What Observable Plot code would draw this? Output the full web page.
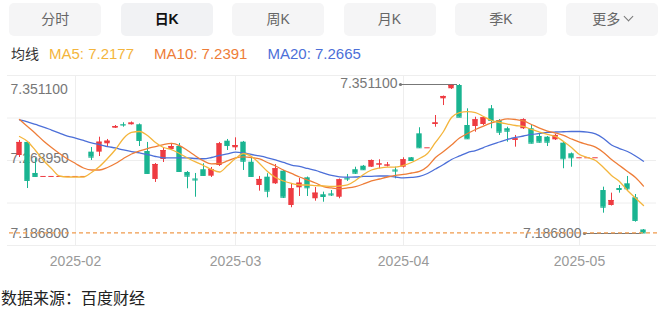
<!DOCTYPE html>
<html><head><meta charset="utf-8">
<script src="https://cdn.jsdelivr.net/npm/d3@7"></script>
<script src="https://cdn.jsdelivr.net/npm/@observablehq/plot@0.6"></script>
<style>
body{margin:0;background:#fff;font-family:"Liberation Sans","Noto Sans CJK SC",sans-serif;}
#wrap{position:relative;width:660px;height:312px;overflow:hidden;}
.tab{position:absolute;top:3px;height:33px;width:92px;background:#f5f5f6;border-radius:5px;text-align:center;line-height:33px;font-size:14px;color:#666;font-family:"Liberation Sans","Noto Sans CJK SC",sans-serif;}
.tab.on{color:#111;font-weight:bold;background:#f1f2f4}
.chev{display:inline-block;width:6px;height:6px;border-right:1px solid #777;border-bottom:1px solid #777;transform:rotate(45deg);margin-left:5px;position:relative;top:-4px;}
#legend{position:absolute;left:11px;top:43px;height:20px;line-height:20px;font-size:15px;white-space:nowrap;}
#chart{position:absolute;left:0;top:70px;}
#caption{position:absolute;left:1px;top:286px;font-size:16px;color:#222;line-height:22px;font-family:"Noto Sans CJK SC",sans-serif;}
</style></head>
<body><div id="wrap"><div id="tabs"></div><div id="legend"></div><div id="chart"></div><div id="caption">数据来源：百度财经</div></div>
<script>
const tabNames = ["分时","日K","周K","月K","季K","更多"];
const selectedTab = "日K";
const maNames = ["MA5","MA10","MA20"];
const maColors = ["#f4b53c","#ee7d38","#4c6fd8"];

const dates = [
"2025-01-23","2025-01-24","2025-01-27","2025-01-28","2025-01-29","2025-01-30","2025-01-31",
"2025-02-03","2025-02-04","2025-02-05","2025-02-06","2025-02-07","2025-02-10","2025-02-11","2025-02-12","2025-02-13","2025-02-14",
"2025-02-17","2025-02-18","2025-02-19","2025-02-20","2025-02-21","2025-02-24","2025-02-25","2025-02-26","2025-02-27","2025-02-28",
"2025-03-03","2025-03-04","2025-03-05","2025-03-06","2025-03-07","2025-03-10","2025-03-11","2025-03-12","2025-03-13","2025-03-14",
"2025-03-17","2025-03-18","2025-03-19","2025-03-20","2025-03-21","2025-03-24","2025-03-25","2025-03-26","2025-03-27","2025-03-28","2025-03-31",
"2025-04-01","2025-04-02","2025-04-03","2025-04-04","2025-04-07","2025-04-08","2025-04-09","2025-04-10","2025-04-11",
"2025-04-14","2025-04-15","2025-04-16","2025-04-17","2025-04-18","2025-04-21","2025-04-22","2025-04-23","2025-04-24","2025-04-25",
"2025-04-28","2025-04-29","2025-04-30",
"2025-05-01","2025-05-02","2025-05-05","2025-05-06","2025-05-07","2025-05-08","2025-05-09","2025-05-12","2025-05-13"];

const open = [7.2728,7.2872,7.2530,7.2497,7.2497,7.2497,7.2497,7.2497,7.2497,7.2765,
7.2765,7.2857,7.3029,7.3070,7.3067,7.3067,7.2772,7.2464,7.2684,7.2794,
7.2827,7.2541,7.2469,7.2571,7.2500,7.2618,7.2886,7.2813,7.2875,7.2654,
7.2397,7.2489,7.2416,7.2555,7.2177,7.2372,7.2482,7.2251,7.2295,7.2304,
7.2268,7.2480,7.2571,7.2610,7.2599,7.2623,7.2612,7.2568,7.2599,7.2703,
7.2967,7.2813,7.3070,7.3353,7.3464,7.3500,7.3059,7.3048,7.3070,7.3243,
7.3114,7.3023,7.2894,7.3023,7.3023,7.2938,7.2930,7.2901,7.2864,7.2747,
7.2703,7.2703,7.2703,7.2342,7.2177,7.2364,7.2416,7.2262,7.1907];
const high = [7.2894,7.2883,7.2695,7.2497,7.2497,7.2497,7.2497,7.2497,7.2497,7.2816,
7.2930,7.2905,7.3059,7.3089,7.3098,7.3076,7.2872,7.2640,7.2816,7.2861,
7.2861,7.2552,7.2530,7.2637,7.2596,7.2872,7.2905,7.2923,7.2883,7.2717,
7.2497,7.2527,7.2629,7.2563,7.2420,7.2475,7.2491,7.2375,7.2324,7.2342,
7.2469,7.2519,7.2599,7.2618,7.2679,7.2681,7.2651,7.2599,7.2703,7.2706,
7.3034,7.2813,7.3169,7.3384,7.3505,7.3511,7.3243,7.3150,7.3153,7.3279,
7.3125,7.3040,7.2949,7.3133,7.3059,7.2967,7.2938,7.2960,7.2872,7.2756,
7.2703,7.2703,7.2703,7.2379,7.2313,7.2397,7.2497,7.2298,7.1912];
const low = [7.2706,7.2364,7.2486,7.2497,7.2497,7.2497,7.2497,7.2497,7.2497,7.2673,
7.2717,7.2827,7.3026,7.3040,7.3064,7.2827,7.2519,7.2431,7.2651,7.2783,
7.2541,7.2361,7.2268,7.2497,7.2486,7.2607,7.2783,7.2783,7.2563,7.2486,
7.2335,7.2262,7.2409,7.2254,7.2152,7.2276,7.2276,7.2224,7.2213,7.2276,
7.2251,7.2442,7.2519,7.2563,7.2596,7.2582,7.2601,7.2471,7.2590,7.2662,
7.2805,7.2813,7.3040,7.3279,7.3456,7.3147,7.2905,7.2985,7.3059,7.3023,
7.2949,7.2875,7.2820,7.3015,7.2855,7.2864,7.2827,7.2894,7.2582,7.2599,
7.2703,7.2703,7.2703,7.2092,7.2171,7.2313,7.2335,7.1993,7.1868];
const close = [7.2872,7.2453,7.2497,7.2497,7.2497,7.2497,7.2497,7.2497,7.2497,7.2710,
7.2875,7.2886,7.3048,7.3064,7.3086,7.2894,7.2530,7.2629,7.2783,7.2827,
7.2552,7.2500,7.2458,7.2508,7.2574,7.2857,7.2838,7.2838,7.2665,7.2497,
7.2464,7.2335,7.2582,7.2268,7.2361,7.2423,7.2372,7.2313,7.2276,7.2293,
7.2460,7.2469,7.2533,7.2571,7.2673,7.2635,7.2623,7.2557,7.2681,7.2673,
7.2813,7.2813,7.3087,7.3379,7.3500,7.3150,7.2912,7.3122,7.3144,7.3114,
7.2985,7.2996,7.2912,7.3122,7.2864,7.2875,7.2875,7.2949,7.2692,7.2703,
7.2703,7.2703,7.2703,7.2158,7.2232,7.2353,7.2361,7.2012,7.1874];

const ma5 = [7.2938,7.2883,7.2783,7.2673,7.2585,7.2502,7.2491,7.2491,7.2491,7.2541,
7.2607,7.2695,7.2794,7.2916,7.2982,7.2993,7.2949,7.2872,7.2816,7.2794,
7.2750,7.2701,7.2657,7.2618,7.2574,7.2546,7.2618,7.2695,7.2750,7.2717,
7.2640,7.2552,7.2486,7.2447,7.2420,7.2403,7.2403,7.2397,7.2392,7.2386,
7.2392,7.2403,7.2453,7.2519,7.2568,7.2590,7.2601,7.2601,7.2618,7.2651,
7.2695,7.2750,7.2872,7.2993,7.3147,7.3202,7.3213,7.3202,7.3158,7.3114,
7.3092,7.3075,7.3059,7.3048,7.3015,7.2987,7.2960,7.2938,7.2883,7.2816,
7.2739,7.2706,7.2673,7.2596,7.2508,7.2442,7.2342,7.2260,7.2177];
const ma10 = [7.3125,7.3048,7.2971,7.2888,7.2816,7.2750,7.2690,7.2640,7.2590,7.2568,
7.2568,7.2596,7.2640,7.2695,7.2745,7.2778,7.2805,7.2827,7.2849,7.2861,
7.2838,7.2783,7.2723,7.2668,7.2635,7.2640,7.2668,7.2701,7.2712,7.2706,
7.2690,7.2651,7.2612,7.2568,7.2530,7.2491,7.2458,7.2425,7.2386,7.2370,
7.2361,7.2370,7.2386,7.2414,7.2447,7.2469,7.2491,7.2508,7.2519,7.2535,
7.2552,7.2607,7.2706,7.2772,7.2844,7.2921,7.2971,7.3015,7.3053,7.3087,
7.3114,7.3131,7.3125,7.3109,7.3070,7.3031,7.2998,7.2976,7.2949,7.2910,
7.2875,7.2849,7.2820,7.2761,7.2684,7.2618,7.2552,7.2486,7.2391];
const ma20 = [7.3120,7.3098,7.3070,7.3042,7.3009,7.2976,7.2943,7.2921,7.2894,7.2866,
7.2849,7.2827,7.2811,7.2789,7.2772,7.2756,7.2739,7.2717,7.2703,7.2701,
7.2701,7.2701,7.2695,7.2692,7.2706,7.2728,7.2745,7.2765,7.2756,7.2739,
7.2723,7.2703,7.2679,7.2651,7.2623,7.2607,7.2585,7.2563,7.2535,7.2508,
7.2493,7.2489,7.2491,7.2497,7.2499,7.2502,7.2502,7.2491,7.2482,7.2486,
7.2497,7.2530,7.2579,7.2629,7.2684,7.2723,7.2761,7.2783,7.2816,7.2849,
7.2877,7.2905,7.2927,7.2943,7.2960,7.2971,7.2982,7.2987,7.2990,7.2993,
7.2993,7.2987,7.2967,7.2916,7.2844,7.2805,7.2772,7.2723,7.2665];

// ---- header tabs ----
const tabsEl = document.getElementById("tabs");
tabNames.forEach((t, i) => {
  const d = document.createElement("div");
  d.className = "tab" + (t === selectedTab ? " on" : "");
  d.style.left = (9.3 + 111.4 * i) + "px";
  d.textContent = t;
  if (i === tabNames.length - 1) { const c = document.createElement("span"); c.className = "chev"; d.appendChild(c); }
  tabsEl.appendChild(d);
});

// ---- MA legend ----
const maSeries = [ma5, ma10, ma20];
document.getElementById("legend").innerHTML =
  `<span style="color:#333;font-size:14px;font-family:'Noto Sans CJK SC',sans-serif">均线</span>` +
  maNames.map((n, i) => `<span style="color:${maColors[i]};margin-left:${i ? 20 : 10}px">${n}: ${maSeries[i][maSeries[i].length - 1].toFixed(4)}</span>`).join("");

// ---- chart ----
const rows = dates.map((date, i) => ({date, open: open[i], high: high[i], low: low[i], close: close[i], ma5: ma5[i], ma10: ma10[i], ma20: ma20[i]}));
const UP = "#ee3b41", DOWN = "#19b491";
const col = d => d.close >= d.open ? UP : DOWN;
const maxHigh = d3.max(high), minLow = d3.min(low);
const rMax = rows[high.indexOf(maxHigh)], rMin = rows[low.indexOf(minLow)];
const last = rows[rows.length - 1];
const monthFirst = dates.filter((d, i) => i > 0 && d.slice(0, 7) !== dates[i - 1].slice(0, 7));
const Y0 = 163, Y1 = 14; // pixel range of [min, max]
const pxToVal = py => maxHigh - (py - Y1) / (Y0 - Y1) * (maxHigh - minLow);
const gridVals = [5, 47.5, 90, 132.5, 175].map(pxToVal);
const axisLabels = [maxHigh, (maxHigh + minLow) / 2, minLow];
const font = "Liberation Sans, Arial, sans-serif";

const chart = Plot.plot({
  width: 660, height: 210, marginTop: 5, marginBottom: 35, marginLeft: 0, marginRight: 0,
  style: {fontFamily: font, overflow: "visible", background: "transparent"},
  x: {type: "band", domain: dates, range: [8.9, 652.7], padding: 0, axis: null},
  y: {domain: [minLow, maxHigh], range: [Y0, Y1], axis: null},
  marks: [
    Plot.ruleY(gridVals, {stroke: "#eeeeee", insetLeft: 7, insetRight: 4}),
    Plot.ruleX(monthFirst, {x: d => d, stroke: "#eeeeee"}),
    Plot.text(monthFirst, {x: d => d, text: d => d.slice(0, 7), frameAnchor: "bottom", dy: 20, fill: "#999", fontSize: 14}),
    Plot.text([axisLabels[0]], {y: d => d, text: d => d.toFixed(6), frameAnchor: "left", dx: 10, textAnchor: "start", lineAnchor: "top", fill: "#777", fontSize: 14}),
    Plot.text([axisLabels[1]], {y: d => d, text: d => d.toFixed(6), frameAnchor: "left", dx: 10, textAnchor: "start", lineAnchor: "middle", fill: "#777", fontSize: 14}),
    Plot.text([axisLabels[2]], {y: d => d, text: d => d.toFixed(6), frameAnchor: "left", dx: 10, textAnchor: "start", lineAnchor: "middle", fill: "#777", fontSize: 14}),
    // max / min markers
    Plot.text([rMax], {x: "date", y: "high", text: d => d.high.toFixed(6), textAnchor: "end", dx: -62, dy: -1, fill: "#777", fontSize: 14}),
    Plot.tickY([rMax], {x: "date", y: "high", stroke: "#777", insetLeft: -55, insetRight: 6}),
    Plot.dot([rMax], {x: "date", y: "high", r: 1.6, fill: "#777", dx: -59}),
    Plot.text([rMin], {x: "date", y: "low", text: d => d.low.toFixed(6), textAnchor: "end", dx: -62, fill: "#777", fontSize: 14}),
    Plot.tickY([rMin], {x: "date", y: "low", stroke: "#777", insetLeft: -55, insetRight: 6}),
    Plot.dot([rMin], {x: "date", y: "low", r: 1.6, fill: "#777", dx: -59}),
    // candles
    Plot.ruleX(rows, {x: "date", y1: "low", y2: "high", stroke: col, strokeWidth: 1}),
    Plot.barY(rows, {x: "date", y1: "open", y2: "close", fill: col, insetLeft: 1.3, insetRight: 1.3}),
    Plot.tickY(rows, {x: "date", y: "close", stroke: col, insetLeft: 1.3, insetRight: 1.3}),
    // moving averages
    Plot.lineY(rows, {x: "date", y: "ma20", stroke: maColors[2], strokeWidth: 1.3, curve: "monotone-x"}),
    Plot.lineY(rows, {x: "date", y: "ma10", stroke: maColors[1], strokeWidth: 1.3, curve: "monotone-x"}),
    Plot.lineY(rows, {x: "date", y: "ma5", stroke: maColors[0], strokeWidth: 1.3, curve: "monotone-x"}),
    // latest price line
    Plot.ruleY([last.close], {stroke: "#ef9a4c", strokeDasharray: "4,3", strokeWidth: 1.2, insetLeft: 9})
  ]
});
document.getElementById("chart").appendChild(chart);
</script>
</body></html>
